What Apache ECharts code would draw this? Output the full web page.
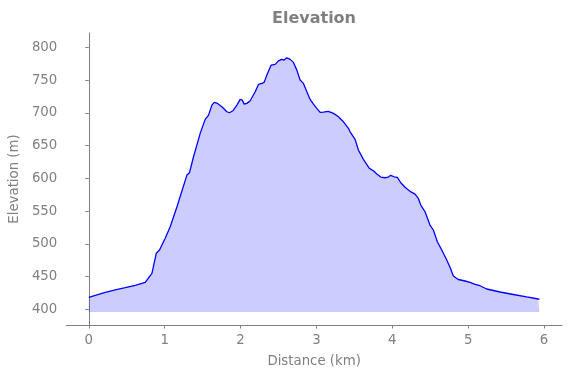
<!DOCTYPE html>
<html>
<head>
<meta charset="utf-8">
<script src="https://cdn.jsdelivr.net/npm/echarts@6/dist/echarts.min.js"></script>
<style>
  html, body { margin: 0; padding: 0; background: #fff; }
  #elevationChart { width: 571px; height: 378px; }
</style>
</head>
<body>
<div id="elevationChart"></div>
<script>
// distance along the track (km)
const distanceKm = [
  0, 0.086, 0.217, 0.349, 0.481, 0.612, 0.744, 0.770, 0.832, 0.889,
  0.932, 1.007, 1.073, 1.162, 1.293, 1.327, 1.380, 1.468, 1.534, 1.578,
  1.623, 1.653, 1.688, 1.754, 1.820, 1.854, 1.899, 1.952, 1.995, 2.022,
  2.048, 2.084, 2.127, 2.193, 2.236, 2.281, 2.311, 2.347, 2.404, 2.456,
  2.500, 2.544, 2.575, 2.610, 2.654, 2.697, 2.742, 2.785, 2.829, 2.874,
  2.917, 2.961, 3.005, 3.049, 3.092, 3.158, 3.224, 3.290, 3.356, 3.422,
  3.444, 3.510, 3.553, 3.619, 3.698, 3.751, 3.796, 3.848, 3.905, 3.948,
  3.980, 4.023, 4.067, 4.112, 4.168, 4.234, 4.300, 4.343, 4.375, 4.432,
  4.497, 4.541, 4.594, 4.652, 4.718, 4.761, 4.805, 4.870, 4.959, 5.025,
  5.090, 5.156, 5.244, 5.420, 5.595, 5.771, 5.924, 5.940
];
// elevation (m)
const elevationM = [
  418.3, 421.4, 426.0, 429.5, 433.0, 436.6, 441.2, 443.7, 455.0, 485.5,
  490.5, 508.4, 526.1, 556.6, 605.0, 608.5, 633.0, 668.7, 690.1, 696.6,
  711.9, 716.0, 715.0, 709.3, 701.7, 700.2, 703.2, 711.9, 720.6, 719.5,
  713.4, 714.5, 718.5, 732.2, 743.5, 745.0, 746.6, 757.7, 773.0, 774.0,
  779.5, 781.7, 780.6, 784.1, 781.7, 777.1, 765.3, 750.1, 745.0, 732.2,
  720.6, 713.4, 706.9, 700.8, 701.2, 702.3, 699.2, 694.0, 686.4, 676.3,
  671.1, 659.5, 643.2, 629.0, 615.3, 611.6, 606.6, 602.0, 600.9, 602.0,
  604.6, 602.4, 601.5, 593.3, 586.3, 580.2, 576.0, 569.5, 559.2, 549.0,
  528.7, 521.1, 503.2, 490.5, 475.3, 464.1, 450.8, 445.5, 443.2, 441.2,
  438.2, 436.0, 431.0, 426.4, 422.6, 418.8, 415.7, 415.5
];
const xTicks = [0, 1, 2, 3, 4, 5, 6];
const yTicks = [400, 450, 500, 550, 600, 650, 700, 750, 800];
const fillBase = 396;

const grey = '#808080';
const font = 'DejaVu Sans';

const chart = echarts.init(document.getElementById('elevationChart'));
const option = {
  animation: false,
  title: {
    text: 'Elevation',
    left: 314,
    top: 11,
    padding: 0,
    textAlign: 'center',
    textStyle: {
      fontFamily: font,
      fontSize: 16,
      fontWeight: 'bold',
      color: grey,
    },
  },
  grid: {
    left: 66,
    right: 9,
    top: 33,
    bottom: 53,
  },
  xAxis: {
    type: 'value',
    min: -0.297,
    max: 6.237,
    name: 'Distance (km)',
    nameLocation: 'middle',
    nameGap: 30,
    nameTextStyle: { fontFamily: font, fontSize: 13.3, color: grey },
    splitLine: { show: false },
    axisLine: { lineStyle: { color: grey, width: 1 } },
    axisTick: {
      length: 3.5,
      customValues: xTicks,
      lineStyle: { color: grey },
    },
    axisLabel: {
      customValues: xTicks,
      margin: 9,
      fontFamily: font,
      fontSize: 13.3,
      color: grey,
    },
  },
  yAxis: {
    type: 'value',
    min: 376,
    max: 822,
    name: 'Elevation (m)',
    nameLocation: 'middle',
    nameGap: 38,
    nameTextStyle: { fontFamily: font, fontSize: 13.3, color: grey },
    splitLine: { show: false },
    axisLine: { show: true, lineStyle: { color: grey, width: 1 } },
    axisTick: {
      show: true,
      length: 3.5,
      customValues: yTicks,
      lineStyle: { color: grey },
    },
    axisLabel: {
      customValues: yTicks,
      margin: 9,
      fontFamily: font,
      fontSize: 13.3,
      color: grey,
    },
  },
  series: [
    {
      type: 'line',
      data: distanceKm.map((d, i) => [d, elevationM[i]]),
      showSymbol: false,
      lineStyle: { color: '#0000ff', width: 1.3 },
      areaStyle: { color: 'rgba(0, 0, 255, 0.2)', opacity: 1, origin: fillBase },
    },
  ],
};
chart.setOption(option);
</script>
</body>
</html>
